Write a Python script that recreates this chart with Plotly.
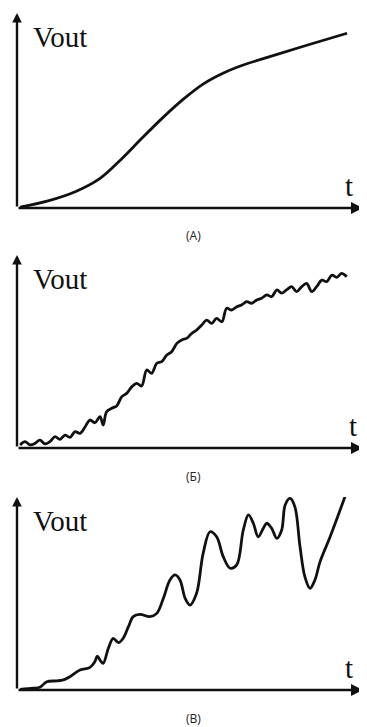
import plotly.graph_objects as go

# Page body has an 8px default margin: lay out in page pixels, shift by OFF.
OFF = 8
PAGE_W, PAGE_H = 367, 727
W, H = PAGE_W - OFF, PAGE_H - OFF

# Panel A: smooth response
t_a = [0.9, 9.0, 17.0, 24.0, 30.0, 36.0, 42.0, 48.0, 54.0, 60.0, 66.0, 74.0, 84.0, 95.4]
v_a = [0.5, 3.7, 8.5, 15.2, 24.8, 35.6, 46.1, 55.7, 63.8, 69.5, 73.7, 78.1, 83.6, 89.6]

# Panel B: noisy response
t_b = [0.9, 2.3, 3.8, 5.2, 6.6, 8.1, 9.5, 11.0, 12.4, 13.9, 15.3, 16.8, 18.2, 19.7,
       21.1, 22.5, 24.0, 24.9, 25.9, 27.4, 28.8, 30.3, 31.7, 33.2, 34.6, 36.0, 37.5,
       38.9, 40.4, 41.8, 43.3, 44.7, 46.2, 47.6, 49.0, 50.5, 51.9, 53.4, 54.8, 56.3,
       57.7, 59.2, 60.6, 62.0, 63.5, 64.9, 66.4, 67.8, 69.3, 70.7, 72.2, 73.6, 75.1,
       76.5, 77.9, 79.4, 80.8, 82.3, 83.7, 85.2, 86.6, 88.1, 89.5, 91.0, 92.4, 93.8, 95.3]
v_b = [1.6, 3.3, 1.6, 2.4, 4.1, 2.1, 3.3, 5.9, 4.5, 6.7, 5.5, 8.5, 7.6, 11.0,
       14.5, 13.1, 16.2, 11.9, 18.8, 20.6, 21.8, 26.6, 28.3, 31.8, 33.5, 32.1, 40.4,
       38.7, 43.9, 44.7, 48.2, 49.9, 54.2, 56.0, 56.8, 59.4, 61.1, 63.7, 66.3, 64.6,
       67.2, 65.4, 72.4, 71.5, 73.2, 74.1, 75.8, 75.0, 76.7, 77.6, 79.3, 78.4, 81.9,
       80.2, 81.9, 83.6, 81.0, 83.6, 85.3, 81.0, 83.6, 87.0, 86.2, 89.6, 88.4, 90.5, 88.8]

# Panel C: oscillating response
t_c = [0.9, 4.7, 6.6, 8.6, 11.5, 13.4, 15.3, 18.2, 21.1, 22.5, 23.2, 24.0, 24.9, 26.4,
       27.8, 29.3, 30.7, 32.2, 33.6, 35.5, 38.4, 40.4, 42.3, 44.2, 45.7, 47.1, 48.6,
       50.0, 51.9, 53.8, 55.8, 57.7, 59.6, 61.6, 63.5, 65.4, 66.9, 68.3, 69.7, 71.2,
       72.2, 73.6, 75.1, 76.5, 77.5, 78.9, 80.3, 81.8, 83.2, 84.7, 86.1, 87.6, 90.5, 94.8]
v_c = [0.3, 0.9, 1.4, 4.3, 4.7, 5.2, 6.9, 10.4, 11.7, 14.7, 17.6, 15.5, 13.8, 21.6,
       26.8, 24.5, 26.8, 32.8, 38.0, 39.2, 38.0, 39.7, 47.5, 57.0, 59.6, 57.0, 47.5,
       44.0, 50.1, 70.8, 82.0, 79.4, 69.1, 63.1, 64.8, 82.9, 90.7, 86.4, 79.4, 83.8,
       86.4, 83.8, 78.6, 82.9, 95.9, 99.3, 95.0, 74.2, 58.7, 52.7, 57.0, 66.5, 79.4, 100.2]

y_label = "Vout"
x_label = "t"
captions = ["(А)", "(Б)", "(В)"]

# page-pixel layout per panel: (axis top, axis bottom)
panels = [(13, 208), (255, 448), (497, 690)]
x_left, x_right = 17, 363

def px(p):
    return (p - OFF) / W

def py(p):
    return 1 - (p - OFF) / H

fig = go.Figure()
series = [(t_a, v_a), (t_b, v_b), (t_c, v_c)]
layout = dict(
    width=W, height=H, margin=dict(l=0, r=0, t=0, b=0),
    paper_bgcolor="white", plot_bgcolor="white", showlegend=False,
)
annotations = []
for i, ((tt, vv), (top, bot)) in enumerate(zip(series, panels)):
    n = "" if i == 0 else str(i + 1)
    fig.add_trace(go.Scatter(
        x=tt, y=vv, mode="lines", xaxis="x" + n, yaxis="y" + n,
        line=dict(color="#111111", width=2.8, shape="spline", smoothing=1.0),
        hoverinfo="skip", cliponaxis=False,
    ))
    layout["xaxis" + n] = dict(domain=[px(x_left), px(x_right)], range=[0, 100],
                               visible=False, anchor="y" + n, fixedrange=True)
    layout["yaxis" + n] = dict(domain=[py(bot), py(top)], range=[0, 100],
                               visible=False, anchor="x" + n, fixedrange=True)
    xr, yr = "x" + n, "y" + n
    # axes with arrowheads
    annotations.append(dict(x=100, y=0, ax=0, ay=0, xref=xr, yref=yr, axref=xr, ayref=yr,
                            text="", showarrow=True, arrowhead=2, arrowsize=1.0,
                            arrowwidth=2.4, arrowcolor="#111111", standoff=0))
    annotations.append(dict(x=0, y=100, ax=0, ay=0, xref=xr, yref=yr, axref=xr, ayref=yr,
                            text="", showarrow=True, arrowhead=2, arrowsize=0.8,
                            arrowwidth=2.4, arrowcolor="#111111", standoff=0))
    # labels
    annotations.append(dict(x=px(31), y=py(top + 24), xref="paper", yref="paper",
                            text=y_label, showarrow=False, xanchor="left", yanchor="middle",
                            font=dict(family="Liberation Serif", size=29, color="#111111")))
    annotations.append(dict(x=px(349 + (4 if i == 1 else 0)), y=py(bot - 22),
                            xref="paper", yref="paper",
                            text=x_label, showarrow=False, xanchor="center", yanchor="middle",
                            font=dict(family="Liberation Serif", size=29, color="#111111")))
    annotations.append(dict(x=px(194), y=py(bot + 28), xref="paper", yref="paper",
                            text=captions[i], showarrow=False, xanchor="center", yanchor="middle",
                            font=dict(family="Open Sans", size=12, color="#222222")))

layout["annotations"] = annotations
fig.update_layout(**layout)
fig.write_html("out.html")
